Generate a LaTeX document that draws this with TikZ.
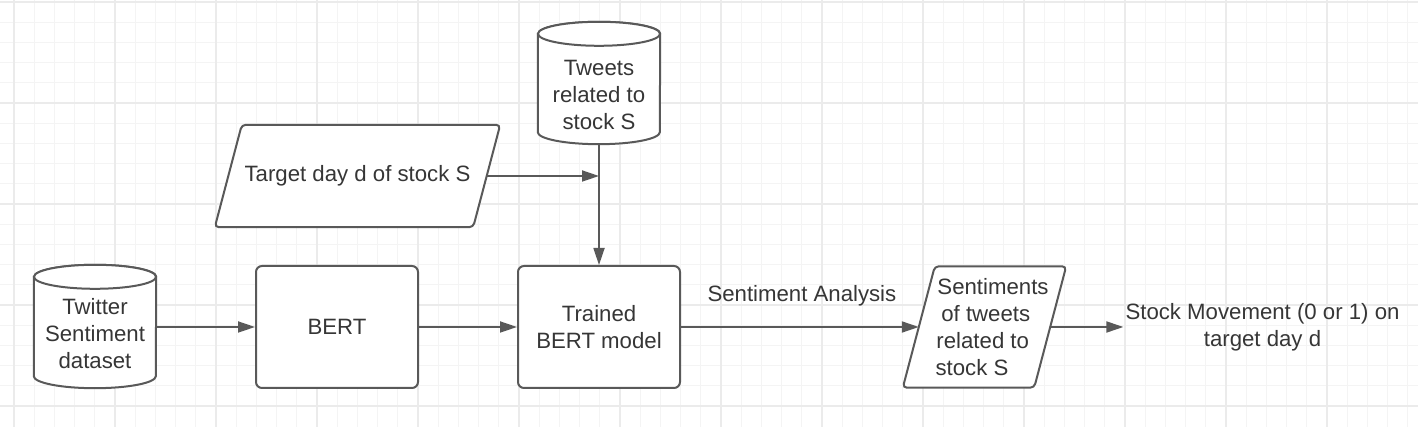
\documentclass[tikz,border=0pt]{standalone}
\usepackage{fontspec}
\setmainfont{Liberation Sans}
\usetikzlibrary{arrows.meta}
\definecolor{linegray}{HTML}{595959}
\definecolor{textgray}{HTML}{363636}
\definecolor{gridminor}{HTML}{F4F4F4}
\definecolor{gridmajor}{HTML}{EBEBEB}
\pgfdeclarelayer{grid}
\pgfdeclarelayer{shapes}
\pgfsetlayers{grid,shapes,main}
\newcommand{\nudge}[2]{\hspace*{#1}#2\hspace*{-#1}}

\begin{document}
\begin{tikzpicture}
[x=1pt,y=1pt,
 every node/.style={font=\fontsize{22.2}{27}\selectfont,text=textgray,inner sep=2pt,align=center},
 process/.style={draw=linegray,line width=2pt,fill=white,rounded corners=6pt,minimum width=162pt,minimum height=122pt},
 outline/.style={draw=linegray,line width=2pt,fill=white},
 flowarrow/.style={-{Triangle[length=17pt,width=11pt]},line width=1.8pt,draw=linegray}];
\useasboundingbox (0,0) rectangle (1418,446);

\node[minimum width=122pt,minimum height=99pt] (twitter) at (95,112) {Twitter\\Sentiment\\dataset};
\node[process] (bert) at (337,119) {BERT};
\node[process] (trained) at (599,119) {Trained\\BERT model};
\node[minimum width=122pt,minimum height=98pt] (tweets) at (599,351) {Tweets\\related to\\stock S};
\node[minimum width=258pt,minimum height=102pt] (target) at (357.5,270) {Target day d of stock S};
\node[minimum width=131pt,minimum height=121pt,inner xsep=0pt] (sentiments) at (984.5,119)
  {\nudge{8.5pt}{Sentiments}\\\nudge{2.5pt}{of tweets}\\\nudge{-3.5pt}{related to}\\\nudge{-12.5pt}{stock S}};
\node (stock) at (1262.5,119) {Stock Movement (0 or 1) on\\target day d};

\draw[flowarrow] (bert.west -| twitter.east) -- (bert.west);
\draw[flowarrow] (bert) -- (trained);
\draw[flowarrow] (tweets.south) -- (trained.north);
\draw[flowarrow] (target.east) -- (target.east -| trained.north);
\draw[flowarrow] (trained.east) -- node[above=18pt,xshift=2pt] (analysis) {Sentiment Analysis} (sentiments.west);
\draw[flowarrow] (sentiments.east) -- (stock.west);

% outlines behind the texts
\begin{pgfonlayer}{shapes}
\foreach \n/\t/\b in {twitter/7.5/7.5,tweets/12/12}{
  \draw[outline] ([yshift=\t pt]\n.north west) -- ([yshift=\b pt]\n.south west)
    arc[start angle=180,end angle=360,x radius=61pt,y radius=12pt]
    -- ([yshift=\t pt]\n.north east)
    arc[start angle=0,end angle=180,x radius=61pt,y radius=12pt] -- cycle;
  \draw[outline] ([yshift=\t pt]\n.north) ellipse[x radius=61pt,y radius=12pt];
}
\foreach \n/\s in {target/13.5,sentiments/16}{
  \draw[outline,rounded corners=4pt] ([xshift=-\s pt]\n.south west) -- ([xshift=\s pt]\n.north west)
    -- ([xshift=\s pt]\n.north east) -- ([xshift=-\s pt]\n.south east) -- cycle;
}
\end{pgfonlayer}

% grid paper
\begin{pgfonlayer}{grid}
\fill[white] (0,0) rectangle (1418,446);
\foreach \i in {0,...,69}
  \draw[gridminor,line width=1.2pt] ({14+20.2*\i},19) -- ({14+20.2*\i},446);
\foreach \j in {0,...,20}
  \draw[gridminor,line width=1.2pt] (0,{444-20.2*\j}) -- (1418,{444-20.2*\j});
\foreach \i in {0,...,13}
  \draw[gridmajor,line width=1.2pt] ({14+101*\i},19) -- ({14+101*\i},446);
\foreach \j in {0,...,4}
  \draw[gridmajor,line width=1.2pt] (0,{444-101*\j}) -- (1418,{444-101*\j});
\end{pgfonlayer}
\end{tikzpicture}
\end{document}
